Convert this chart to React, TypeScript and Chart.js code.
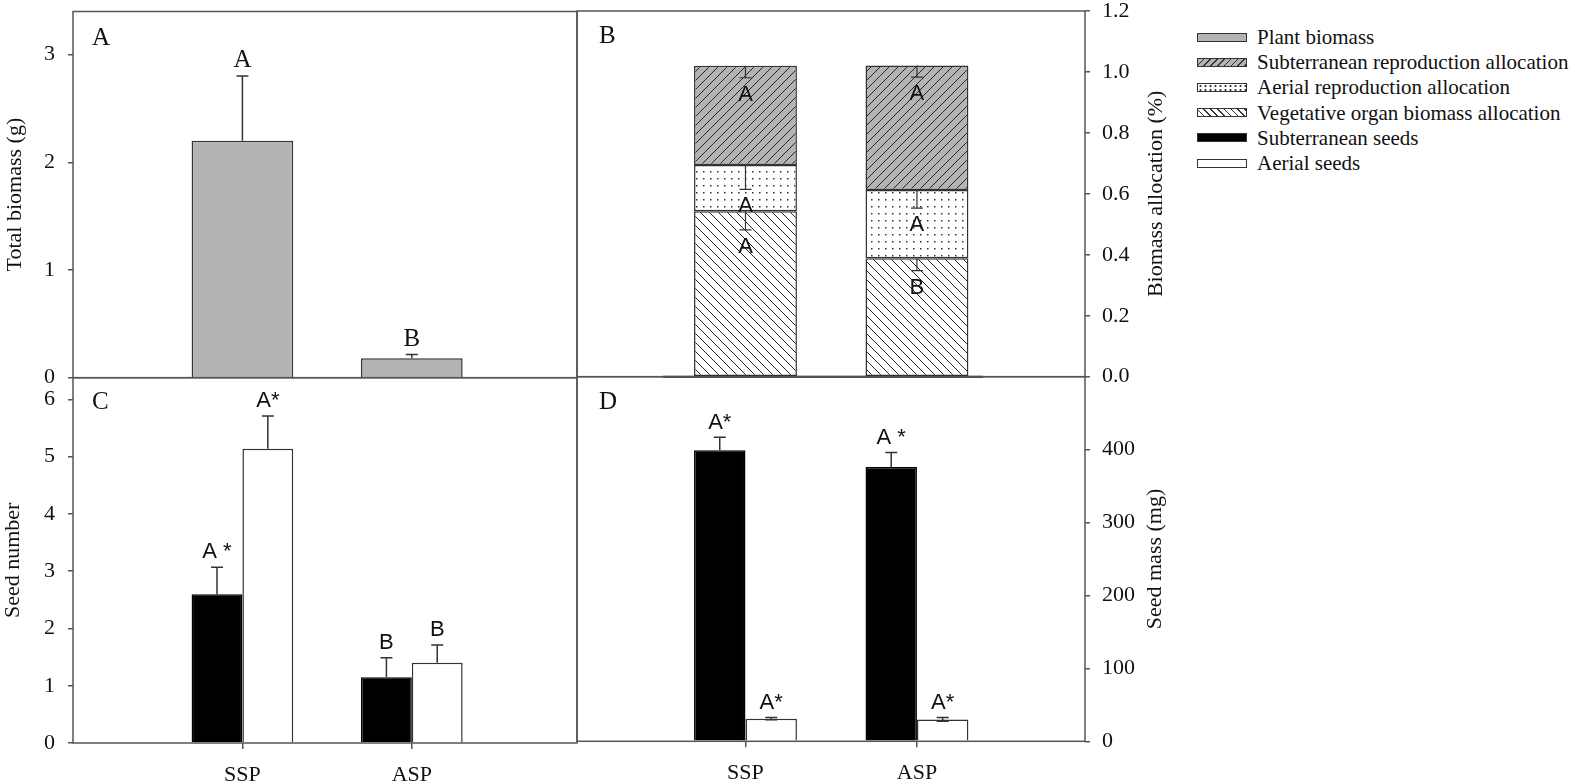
import React, { useEffect, useRef } from 'react';
import { Chart, registerables } from 'chart.js';

Chart.register(...registerables);

// ---------------- data ----------------
const categories = ['SSP', 'ASP'];

// Panel A – total biomass (g)
const plantBiomass = [2.2, 0.18];
const plantBiomassErr = [0.6, 0.035];
const plantBiomassSig = ['A', 'B'];
const totalBiomassTicks = [0, 1, 2, 3];

// Panel B – biomass allocation (stacked, bottom to top)
const vegetativeAlloc = [0.543, 0.389];
const vegetativeAllocErr = [0.061, 0.041];
const vegetativeSig = ['A', 'B'];
const aerialReproAlloc = [0.152, 0.224];
const aerialReproAllocErr = [0.08, 0.06];
const aerialReproSig = ['A', 'A'];
const subReproAlloc = [0.325, 0.408];
const subReproAllocErr = [0.039, 0.038];
const subReproSig = ['A', 'A'];
const allocationTicks = [0, 0.2, 0.4, 0.6, 0.8, 1.0, 1.2];

// Panel C – seed number
const subSeedNumber = [2.6, 1.15];
const subSeedNumberErr = [0.47, 0.34];
const subSeedNumberSig = ['A *', 'B'];
const aerialSeedNumber = [5.14, 1.4];
const aerialSeedNumberErr = [0.57, 0.31];
const aerialSeedNumberSig = ['A*', 'B'];
const seedNumberTicks = [0, 1, 2, 3, 4, 5, 6];

// Panel D – seed mass (mg)
const subSeedMass = [399, 376];
const subSeedMassErr = [18, 20];
const subSeedMassSig = ['A*', 'A *'];
const aerialSeedMass = [31, 30];
const aerialSeedMassErr = [1.5, 2.5];
const aerialSeedMassSig = ['A*', 'A*'];
const seedMassTicks = [0, 100, 200, 300, 400];

const legendLabels = [
  'Plant biomass',
  'Subterranean reproduction allocation',
  'Aerial reproduction allocation',
  'Vegetative organ biomass allocation',
  'Subterranean seeds',
  'Aerial seeds',
];

// ---------------- styles ----------------
const SERIF = '"Liberation Serif", "Times New Roman", serif';
const SANS = '"Liberation Sans", Arial, sans-serif';
const TEXT = '#111';
const AXIS = '#555';
const GREY = '#b4b4b4';

const legendSwatchStyles: any[] = [
  { background: GREY },
  { background: `repeating-linear-gradient(135deg, ${GREY} 0px, ${GREY} 3.6px, #333 3.6px, #333 4.8px)` },
  { background: 'radial-gradient(circle, #333 0.8px, transparent 1.3px) 0 0 / 5px 4px, #fff' },
  { background: 'repeating-linear-gradient(45deg, #fff 0px, #fff 3.6px, #333 3.6px, #333 4.8px)' },
  { background: '#000' },
  { background: '#fff' },
];

const pts = (vals: number[]) => vals.map((v, i) => ({ x: i + 1, y: v }));

function makePattern(ctx: CanvasRenderingContext2D, kind: string) {
  const tile = document.createElement('canvas');
  if (kind === 'dots') {
    tile.width = 7;
    tile.height = 7;
    const g = tile.getContext('2d')!;
    g.fillStyle = '#fff';
    g.fillRect(0, 0, 7, 7);
    g.fillStyle = '#333';
    g.fillRect(3, 3, 1.5, 1.5);
    return ctx.createPattern(tile, 'repeat');
  }
  const s = 9;
  tile.width = s;
  tile.height = s;
  const g = tile.getContext('2d')!;
  g.fillStyle = kind === 'fwd' ? GREY : '#fff';
  g.fillRect(0, 0, s, s);
  g.strokeStyle = '#262626';
  g.lineWidth = 1;
  g.beginPath();
  if (kind === 'fwd') {
    g.moveTo(0, s); g.lineTo(s, 0);
    g.moveTo(-1, 1); g.lineTo(1, -1);
    g.moveTo(s - 1, s + 1); g.lineTo(s + 1, s - 1);
  } else {
    g.moveTo(0, 0); g.lineTo(s, s);
    g.moveTo(-1, s - 1); g.lineTo(1, s + 1);
    g.moveTo(s - 1, -1); g.lineTo(s + 1, 1);
  }
  g.stroke();
  return ctx.createPattern(tile, 'repeat');
}

const annotatePlugin: any = {
  id: 'annotate',
  afterDatasetsDraw(chart: any, _args: any, o: any) {
    const { ctx } = chart;
    const ys = chart.scales.y;
    const zero = ys.getPixelForValue(0);
    ctx.save();
    chart.data.datasets.forEach((ds: any, di: number) => {
      const meta = chart.getDatasetMeta(di);
      meta.data.forEach((bar: any, i: number) => {
        const errPx = Math.abs(zero - ys.getPixelForValue(ds.errors[i]));
        const x = bar.x;
        const top = bar.y;
        const dir = ds.errorDir;
        let capTop = top - errPx;
        let capBot = top;
        if (dir === 'down') { capTop = top; capBot = top + errPx; }
        if (dir === 'both') { capBot = top + errPx; }
        const hc = o.cap / 2;
        ctx.strokeStyle = o.errColor;
        ctx.lineWidth = o.errWidth;
        ctx.beginPath();
        ctx.moveTo(x, capTop); ctx.lineTo(x, capBot);
        if (dir !== 'down') { ctx.moveTo(x - hc, capTop); ctx.lineTo(x + hc, capTop); }
        if (dir !== 'up') { ctx.moveTo(x - hc, capBot); ctx.lineTo(x + hc, capBot); }
        ctx.stroke();
        const label = ds.sig[i];
        ctx.fillStyle = TEXT;
        ctx.font = `${o.sigSize}px ${o.sigFamily}`;
        ctx.textAlign = 'center';
        ctx.textBaseline = 'alphabetic';
        const half = (o.sigSize * o.capRatio) / 2;
        const cy = dir === 'down' ? capBot + o.sigGap : capTop - o.sigGap;
        ctx.fillText(label, x, cy + half);
      });
    });
    ctx.restore();
  },
  afterDraw(chart: any, _args: any, o: any) {
    const { ctx, chartArea: ca } = chart;
    ctx.save();
    ctx.strokeStyle = AXIS;
    ctx.lineWidth = 1.5;
    ctx.strokeRect(ca.left, ca.top, ca.right - ca.left, ca.bottom - ca.top);
    if (o.baseline) {
      const xs = chart.scales.x;
      ctx.strokeStyle = '#222';
      ctx.lineWidth = 2;
      ctx.beginPath();
      ctx.moveTo(xs.getPixelForValue(o.baseline[0]), ca.bottom);
      ctx.lineTo(xs.getPixelForValue(o.baseline[1]), ca.bottom);
      ctx.stroke();
    }
    ctx.fillStyle = TEXT;
    ctx.font = `25px ${SERIF}`;
    ctx.textAlign = 'left';
    ctx.textBaseline = 'alphabetic';
    ctx.fillText(o.letter, ca.left + o.letterDx, ca.top + o.letterDy);
    const tx = o.side === 'left' ? ca.left - o.titleOffset : ca.right + o.titleOffset;
    ctx.translate(tx, (ca.top + ca.bottom) / 2);
    ctx.rotate(-Math.PI / 2);
    ctx.font = `22px ${SERIF}`;
    ctx.textAlign = 'center';
    ctx.textBaseline = 'middle';
    ctx.fillText(o.title, 0, 0);
    ctx.restore();
  },
};

function buildChart(canvas: HTMLCanvasElement, spec: any) {
  return new Chart(canvas, {
    type: 'bar',
    data: { datasets: spec.datasets },
    options: {
      animation: false,
      responsive: false,
      events: [],
      layout: { padding: spec.padding },
      plugins: {
        legend: { display: false },
        tooltip: { enabled: false },
        annotate: spec.annotate,
      } as any,
      scales: {
        x: {
          type: 'linear',
          min: spec.xMin,
          max: spec.xMax,
          offset: false,
          stacked: spec.stacked,
          display: spec.showX,
          afterBuildTicks: (s: any) => { s.ticks = categories.map((_, i) => ({ value: i + 1 })); },
          afterFit: (s: any) => { s.height = spec.xHeight; s.paddingLeft = 0; s.paddingRight = 0; },
          grid: {
            display: true, offset: false, drawOnChartArea: false, drawTicks: true,
            tickLength: 6, color: AXIS, lineWidth: 1.5,
          },
          border: { display: false },
          ticks: {
            autoSkip: false,
            maxRotation: 0,
            padding: 13,
            color: TEXT,
            font: { family: SERIF, size: 22 },
            callback: (v: any) => categories[Math.round(v) - 1] ?? '',
          },
        },
        y: {
          type: 'linear',
          position: spec.yPosition,
          min: 0,
          max: spec.yMax,
          stacked: spec.stacked,
          afterBuildTicks: (s: any) => { s.ticks = spec.yTicks.map((v: number) => ({ value: v })); },
          afterFit: (s: any) => { s.width = spec.yWidth; s.paddingTop = 0; s.paddingBottom = 0; },
          grid: {
            display: true, offset: false, drawOnChartArea: false, drawTicks: true,
            tickLength: 5, color: AXIS, lineWidth: 1.5,
          },
          border: { display: false },
          ticks: {
            autoSkip: false,
            padding: spec.yPad,
            color: TEXT,
            font: { family: SERIF, size: 22 },
            callback: spec.yFormat,
          },
        },
      } as any,
    },
    plugins: [annotatePlugin],
  } as any);
}

const errStyle = { errColor: '#333', errWidth: 1.5, cap: 12 };

export default function App() {
  const refA = useRef<HTMLCanvasElement>(null);
  const refB = useRef<HTMLCanvasElement>(null);
  const refC = useRef<HTMLCanvasElement>(null);
  const refD = useRef<HTMLCanvasElement>(null);

  useEffect(() => {
    const ctxB = refB.current!.getContext('2d')!;
    const charts: Chart[] = [];

    charts.push(buildChart(refA.current!, {
      padding: { left: 0, top: 11.5, right: 13, bottom: 14.3 },
      yPosition: 'left', yWidth: 73, yPad: 13, yMax: 3.4, yTicks: totalBiomassTicks,
      yFormat: (v: any) => String(v),
      xMin: 0, xMax: 2.975, showX: false, xHeight: 0, stacked: false,
      datasets: [{
        data: pts(plantBiomass), backgroundColor: GREY, borderColor: '#333', borderWidth: 1.5,
        categoryPercentage: 0.6, barPercentage: 1,
        errors: plantBiomassErr, sig: plantBiomassSig, errorDir: 'up',
      }],
      annotate: {
        ...errStyle, letter: 'A', letterDx: 19, letterDy: 33.5, title: 'Total biomass (g)', side: 'left',
        titleOffset: 57.7, sigSize: 25, sigFamily: SERIF, capRatio: 0.662, sigGap: 17,
      },
    }));

    charts.push(buildChart(refB.current!, {
      padding: { left: 17, top: 11, right: 0, bottom: 15.3 },
      yPosition: 'right', yWidth: 95, yPad: 12, yMax: 1.2, yTicks: allocationTicks,
      yFormat: (v: any) => Number(v).toFixed(1),
      xMin: 0.0175, xMax: 2.98, showX: false, xHeight: 0, stacked: true,
      datasets: [
        {
          data: pts(vegetativeAlloc), backgroundColor: makePattern(ctxB, 'back'), borderColor: '#333', borderWidth: 1.5,
          categoryPercentage: 0.6, barPercentage: 1, borderSkipped: false,
          errors: vegetativeAllocErr, sig: vegetativeSig, errorDir: 'down',
        },
        {
          data: pts(aerialReproAlloc), backgroundColor: makePattern(ctxB, 'dots'), borderColor: '#333', borderWidth: 1.5,
          categoryPercentage: 0.6, barPercentage: 1, borderSkipped: false,
          errors: aerialReproAllocErr, sig: aerialReproSig, errorDir: 'down',
        },
        {
          data: pts(subReproAlloc), backgroundColor: makePattern(ctxB, 'fwd'), borderColor: '#333', borderWidth: 1.5,
          categoryPercentage: 0.6, barPercentage: 1, borderSkipped: false,
          errors: subReproAllocErr, sig: subReproSig, errorDir: 'down',
        },
      ],
      annotate: {
        ...errStyle, errWidth: 1.2, letter: 'B', letterDx: 22, letterDy: 32, title: 'Biomass allocation (%)', side: 'right',
        titleOffset: 71.7, sigSize: 22, sigFamily: SANS, capRatio: 0.716, sigGap: 15, baseline: [0.52, 2.385],
      },
    }));

    charts.push(buildChart(refC.current!, {
      padding: { left: 0, top: 7.7, right: 13, bottom: 0 },
      yPosition: 'left', yWidth: 73, yPad: 13, yMax: 6.38, yTicks: seedNumberTicks,
      yFormat: (v: any) => String(v),
      xMin: 0, xMax: 2.975, showX: true, xHeight: 41, stacked: false,
      datasets: [
        {
          data: pts(subSeedNumber), backgroundColor: '#000', borderColor: '#000', borderWidth: 1.5,
          categoryPercentage: 0.6, barPercentage: 1,
          errors: subSeedNumberErr, sig: subSeedNumberSig, errorDir: 'up',
        },
        {
          data: pts(aerialSeedNumber), backgroundColor: '#fff', borderColor: '#333', borderWidth: 1.5,
          categoryPercentage: 0.6, barPercentage: 1,
          errors: aerialSeedNumberErr, sig: aerialSeedNumberSig, errorDir: 'up',
        },
      ],
      annotate: {
        ...errStyle, letter: 'C', letterDx: 19, letterDy: 31.3, title: 'Seed number', side: 'left',
        titleOffset: 59.7, sigSize: 22, sigFamily: SANS, capRatio: 0.716, sigGap: 17,
      },
    }));

    charts.push(buildChart(refD.current!, {
      padding: { left: 17, top: 6.7, right: 0, bottom: 0 },
      yPosition: 'right', yWidth: 95, yPad: 12, yMax: 500, yTicks: seedMassTicks,
      yFormat: (v: any) => String(v),
      xMin: 0.0175, xMax: 2.98, showX: true, xHeight: 42.7, stacked: false,
      datasets: [
        {
          data: pts(subSeedMass), backgroundColor: '#000', borderColor: '#000', borderWidth: 1.5,
          categoryPercentage: 0.6, barPercentage: 1,
          errors: subSeedMassErr, sig: subSeedMassSig, errorDir: 'up',
        },
        {
          data: pts(aerialSeedMass), backgroundColor: '#fff', borderColor: '#333', borderWidth: 1.5,
          categoryPercentage: 0.6, barPercentage: 1,
          errors: aerialSeedMassErr, sig: aerialSeedMassSig, errorDir: 'both',
        },
      ],
      annotate: {
        ...errStyle, letter: 'D', letterDx: 22, letterDy: 32.3, title: 'Seed mass (mg)', side: 'right',
        titleOffset: 70, sigSize: 22, sigFamily: SANS, capRatio: 0.716, sigGap: 16,
      },
    }));

    return () => charts.forEach((c) => c.destroy());
  }, []);

  const abs = (left: number, top: number): React.CSSProperties => ({ position: 'absolute', left, top, display: 'block' });

  return (
    <div style={{ position: 'fixed', left: 0, top: 0, width: 1575, height: 784, background: '#fff', overflow: 'hidden' }}>
      <canvas ref={refA} width={590} height={392} style={abs(0, 0)} />
      <canvas ref={refB} width={620} height={392} style={abs(560, 0)} />
      <canvas ref={refC} width={590} height={414} style={abs(0, 370)} />
      <canvas ref={refD} width={620} height={414} style={abs(560, 370)} />
      {legendLabels.map((label, i) => (
        <div
          key={label}
          style={{
            position: 'absolute', left: 1197, top: 37 + 25.2 * i - 12, height: 24,
            display: 'flex', alignItems: 'center', whiteSpace: 'nowrap',
          }}
        >
          <div style={{ width: 50, height: 9, boxSizing: 'border-box', border: '1.5px solid #333', ...legendSwatchStyles[i] }} />
          <span style={{ marginLeft: 10, font: `21px ${SERIF}`, color: TEXT, lineHeight: '24px' }}>{label}</span>
        </div>
      ))}
    </div>
  );
}
